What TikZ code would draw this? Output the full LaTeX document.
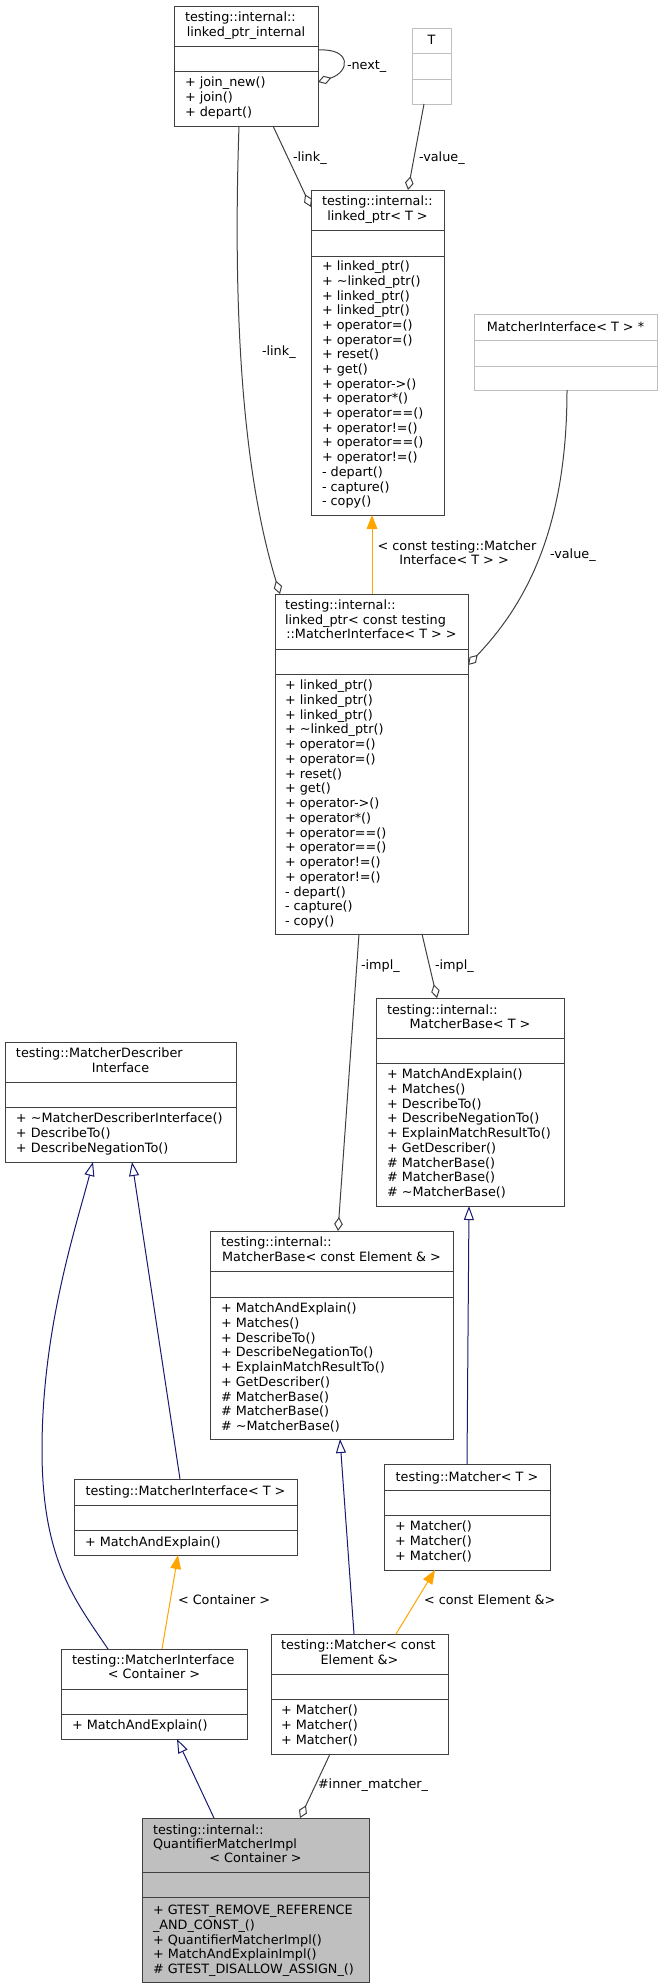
\documentclass[tikz,border=0pt]{standalone}
\usepackage{fontspec}
\setmainfont{DejaVu Sans}
\usetikzlibrary{arrows.meta,calc}
\definecolor{boxc}{HTML}{404040}
\definecolor{lightc}{HTML}{BFBFBF}
\definecolor{qfill}{HTML}{BFBFBF}
\definecolor{inh}{HTML}{191970}
\definecolor{tmpl}{HTML}{FFA500}
\definecolor{aggc}{HTML}{404040}
\newcounter{tn}
\tikzset{
  cls/.style={draw=boxc, line width=0.75pt},
  clsl/.style={draw=lightc, line width=0.75pt},
  clsq/.style={draw=boxc, fill=qfill, line width=0.75pt},
  txt/.style={inner sep=0pt, outer sep=0pt, text height=7pt, text depth=0pt, font=\fontsize{9.6}{11}\selectfont},
  inhe/.style={draw=inh, line width=0.75pt, -{Triangle[open,length=10.5pt,width=7.5pt]}},
  tmple/.style={draw=tmpl, line width=0.75pt, -{Triangle[length=10.5pt,width=8pt]}},
  agge/.style={draw=aggc, line width=0.75pt, -{Diamond[open,length=10.5pt,width=6.5pt]}}
}
\newcommand{\cbox}[8][]{%
  \node[#2,inner sep=0pt,outer sep=0pt,anchor=north west,minimum width={(#6-#4)*0.75pt},minimum height={(#7-#5)*0.75pt}] (#3) at (#4,#5) {};
  \draw[#2,fill=none] (#4,#8) -- (#6,#8);
  \draw[#2,fill=none] (#4,#1) -- (#6,#1);
}
\newcommand{\tl}[3]{\stepcounter{tn}\node[txt,anchor=west] (t\arabic{tn}) at (#1,#2) {#3};}
\newcommand{\tc}[3]{\stepcounter{tn}\node[txt,anchor=center] (t\arabic{tn}) at (#1,#2) {#3};}
\newcommand{\mems}[4]{\foreach \m [count=\i from 0] in {#4} {\stepcounter{tn}\node[txt,anchor=west] (t\arabic{tn}) at (#1,{#2+\i*#3}) {\m};}}
\begin{document}
\begin{tikzpicture}[x=0.75pt,y=-0.75pt]
\useasboundingbox (0,0) rectangle (662,1988);

% linked_ptr_internal
\cbox[71]{cls}{lpi}{174}{6}{318}{126}{46}
\tl{185}{17}{testing::internal::}
\tc{246}{32}{linked\_ptr\_internal}
\mems{185}{82}{15}{+ join\_new(), + join(), + depart()}

% T
\cbox[79]{clsl}{T}{412}{28}{451}{104}{53}
\tc{431.5}{40}{T}

% linked_ptr< T >
\cbox[256]{cls}{lpT}{311}{190}{444}{515}{230}
\tl{322}{201}{testing::internal::}
\tc{377.5}{216}{linked\_ptr< T >}
\mems{322}{266}{14.69}{+ linked\_ptr(), + \textasciitilde linked\_ptr(), + linked\_ptr(), + linked\_ptr(), + operator=(), + operator=(), + reset(), + get(), + operator->(), + operator*(), + operator==(), + operator!=(), + operator==(), + operator!=(), - depart(), - capture(), - copy()}

% MatcherInterface< T > *
\cbox[366]{clsl}{MIp}{474}{314}{657}{390}{340}
\tc{565.5}{327}{MatcherInterface< T > *}

% linked_ptr< const ... >
\cbox[674]{cls}{lpc}{275}{594}{468}{934}{649}
\tl{285}{605}{testing::internal::}
\tl{285}{620}{linked\_ptr< const testing}
\tc{371.5}{634}{::MatcherInterface< T > >}
\mems{285}{685}{14.75}{+ linked\_ptr(), + linked\_ptr(), + linked\_ptr(), + \textasciitilde linked\_ptr(), + operator=(), + operator=(), + reset(), + get(), + operator->(), + operator*(), + operator==(), + operator==(), + operator!=(), + operator!=(), - depart(), - capture(), - copy()}

% MatcherBase< T >
\cbox[1063]{cls}{MBT}{376}{998}{564}{1206}{1038}
\tl{387}{1010}{testing::internal::}
\tc{470}{1024}{MatcherBase< T >}
\mems{387}{1074}{14.75}{+ MatchAndExplain(), + Matches(), + DescribeTo(), + DescribeNegationTo(), + ExplainMatchResultTo(), + GetDescriber(), \# MatcherBase(), \# MatcherBase(), \# \textasciitilde MatcherBase()}

% MatcherDescriberInterface
\cbox[1107]{cls}{MDI}{5}{1042}{236}{1162}{1082}
\tl{16}{1053}{testing::MatcherDescriber}
\tc{120.5}{1068}{Interface}
\mems{16}{1118}{15}{+ \textasciitilde MatcherDescriberInterface(), + DescribeTo(), + DescribeNegationTo()}

% MatcherBase< const Element & >
\cbox[1297]{cls}{MBE}{210}{1231}{453}{1439}{1271}
\tl{221}{1242}{testing::internal::}
\tc{331.5}{1257}{MatcherBase< const Element \& >}
\mems{221}{1308}{14.75}{+ MatchAndExplain(), + Matches(), + DescribeTo(), + DescribeNegationTo(), + ExplainMatchResultTo(), + GetDescriber(), \# MatcherBase(), \# MatcherBase(), \# \textasciitilde MatcherBase()}

% MatcherInterface< T >
\cbox[1530]{cls}{MIT}{74}{1479}{297}{1555}{1505}
\tc{185.5}{1491}{testing::MatcherInterface< T >}
\mems{85}{1542}{15}{+ MatchAndExplain()}

% Matcher< T >
\cbox[1515]{cls}{MT}{384}{1464}{550}{1570}{1490}
\tc{467}{1477}{testing::Matcher< T >}
\mems{395}{1526}{15}{+ Matcher(), + Matcher(), + Matcher()}

% MatcherInterface< Container >
\cbox[1714]{cls}{MIC}{61}{1649}{247}{1739}{1689}
\tl{72}{1660}{testing::MatcherInterface}
\tc{154}{1674}{< Container >}
\mems{72}{1725}{15}{+ MatchAndExplain()}

% Matcher< const Element &>
\cbox[1699]{cls}{ME}{271}{1634}{448}{1754}{1674}
\tl{281}{1645}{testing::Matcher< const}
\tc{359.5}{1660}{Element \&>}
\mems{281}{1710}{15}{+ Matcher(), + Matcher(), + Matcher()}

% QuantifierMatcherImpl
\cbox[1897]{clsq}{QMI}{142}{1818}{369}{1982}{1872}
\tl{153}{1830}{testing::internal::}
\tl{153}{1844}{QuantifierMatcherImpl}
\tc{255.5}{1858}{< Container >}
\mems{153}{1910}{14.75}{+ GTEST\_REMOVE\_REFERENCE, \_AND\_CONST\_(), + QuantifierMatcherImpl(), + MatchAndExplainImpl(), \# GTEST\_DISALLOW\_ASSIGN\_()}

% ---- connectors ----
\draw[agge] ($(lpi.north east)+(0,44)$) .. controls (352,48) and (350,72) .. ($(lpi.north east)+(0,76)$);
\tl{347}{65}{-next\_}

\draw[agge] ($(lpi.south west)+(99,0)$) -- ($(lpT.north west)+(0,17)$);
\tl{293}{157}{-link\_}

\draw[agge] ($(T.south west)+(12,0)$) -- ($(lpT.north west)+(97,0)$);
\tl{419}{157}{-value\_}

\draw[agge] ($(lpi.south west)+(65,0)$) .. controls (232,330) and (245,480) .. ($(lpc.north west)+(5,0)$);
\tl{262}{351}{-link\_}

\draw[tmple] ($(lpc.north west)+(97,0)$) -- ($(lpT.south west)+(61,0)$);
\tc{457}{546}{< const testing::Matcher}
\tc{454}{560}{Interface< T > >}

\draw[agge] ($(MIp.south west)+(93,0)$) .. controls (567,530) and (525,605) .. ($(lpc.north east)+(0,71)$);
\tl{550}{554}{-value\_}

\draw[agge] ($(lpc.south west)+(84,0)$) -- ($(MBE.north west)+(128,0)$);
\tl{361}{965}{-impl\_}
\draw[agge] ($(lpc.south west)+(147,0)$) -- ($(MBT.north west)+(61,0)$);
\tl{435}{965}{-impl\_}

\draw[inhe] ($(ME.north west)+(83,0)$) -- ($(MBE.south west)+(130,0)$);
\draw[inhe] ($(MT.north west)+(83,0)$) -- ($(MBT.south west)+(93,0)$);
\draw[inhe] ($(MIT.north west)+(106,0)$) -- ($(MDI.south west)+(127,0)$);
\draw[inhe] ($(MIC.north west)+(47,0)$) .. controls (75,1600) and (42,1560) .. (42,1450) .. controls (42,1330) and (75,1230) .. ($(MDI.south west)+(88,0)$);
\draw[inhe] ($(QMI.north west)+(72,0)$) -- ($(MIC.south west)+(116,0)$);

\draw[tmple] ($(MIC.north west)+(101,0)$) -- ($(MIT.south west)+(104,0)$);
\tl{178}{1600}{< Container >}
\draw[tmple] ($(ME.north west)+(125,0)$) -- ($(MT.south west)+(51,0)$);
\tl{424}{1600}{< const Element \&>}

\draw[agge] ($(ME.south west)+(59,0)$) -- ($(QMI.north west)+(158,0)$);
\tl{318}{1784}{\#inner\_matcher\_}
\end{tikzpicture}
\end{document}
